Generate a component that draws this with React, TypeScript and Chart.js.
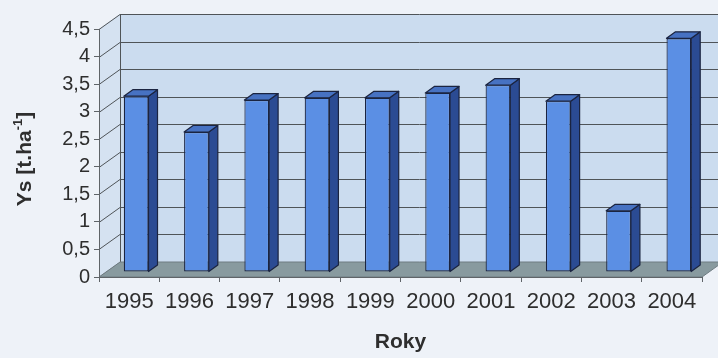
import React, { useEffect, useRef } from "react";
import { Chart, registerables } from "chart.js";

Chart.register(...registerables);

// Yields per year
const years = ["1995", "1996", "1997", "1998", "1999", "2000", "2001", "2002", "2003", "2004"];
const yields = [3.19, 2.54, 3.12, 3.16, 3.16, 3.25, 3.39, 3.1, 1.11, 4.24];
const yMax = 4.5;
const yStep = 0.5;

const FONT = "'Liberation Sans', Arial, sans-serif";

// 3D projection offsets (pixels)
const WALL_DX = 21;
const WALL_DY = 15;
const BAR_DX = 7;
const BAR_DY = 5;
const SIDE_DX = 9;
const SIDE_DY = 6.5;

const threeD = {
  id: "threeD",
  beforeDraw(chart: any) {
    const { ctx, chartArea: a, scales } = chart;
    const y = scales.y;
    const L = a.left, R = a.right, T = a.top, B = a.bottom;
    ctx.save();
    ctx.fillStyle = "#eef2f8";
    ctx.fillRect(0, 0, chart.width, chart.height);

    // back wall
    ctx.fillStyle = "#cbdcef";
    ctx.fillRect(L + WALL_DX, T - WALL_DY, R - L, B - T);
    // left wall
    ctx.fillStyle = "#d5e2f1";
    ctx.beginPath();
    ctx.moveTo(L, T);
    ctx.lineTo(L + WALL_DX, T - WALL_DY);
    ctx.lineTo(L + WALL_DX, B - WALL_DY);
    ctx.lineTo(L, B);
    ctx.closePath();
    ctx.fill();

    // gridlines on both walls
    ctx.strokeStyle = "#4f5458";
    ctx.lineWidth = 1;
    for (let v = 0; v <= yMax + 1e-9; v += yStep) {
      const py = Math.round(y.getPixelForValue(v)) + 0.5;
      ctx.beginPath();
      ctx.moveTo(L, py);
      ctx.lineTo(L + WALL_DX, py - WALL_DY);
      ctx.lineTo(R + WALL_DX, py - WALL_DY);
      ctx.stroke();
    }
    // wall corner edge
    ctx.beginPath();
    ctx.moveTo(L + WALL_DX + 0.5, T - WALL_DY);
    ctx.lineTo(L + WALL_DX + 0.5, B - WALL_DY);
    ctx.stroke();

    // floor
    ctx.fillStyle = "#889a9f";
    ctx.beginPath();
    ctx.moveTo(L, B);
    ctx.lineTo(R, B);
    ctx.lineTo(R + WALL_DX, B - WALL_DY);
    ctx.lineTo(L + WALL_DX, B - WALL_DY);
    ctx.closePath();
    ctx.fill();
    ctx.strokeStyle = "#6f7c82";
    ctx.stroke();
    ctx.restore();
  },
  beforeDatasetsDraw(chart: any) {
    chart.ctx.save();
    chart.ctx.translate(BAR_DX, -BAR_DY);
  },
  afterDatasetsDraw(chart: any) {
    const { ctx } = chart;
    const meta = chart.getDatasetMeta(0);
    ctx.lineWidth = 1.2;
    ctx.strokeStyle = "#1b2440";
    ctx.lineJoin = "round";
    meta.data.forEach((bar: any) => {
      const { x, y, base, width } = bar.getProps(["x", "y", "base", "width"], true);
      const l = x - width / 2;
      const r = x + width / 2;
      // right side face
      ctx.fillStyle = "#2b4b93";
      ctx.beginPath();
      ctx.moveTo(r, y);
      ctx.lineTo(r + SIDE_DX, y - SIDE_DY);
      ctx.lineTo(r + SIDE_DX, base - SIDE_DY);
      ctx.lineTo(r, base);
      ctx.closePath();
      ctx.fill();
      ctx.stroke();
      // top face
      ctx.fillStyle = "#4772c2";
      ctx.beginPath();
      ctx.moveTo(l, y);
      ctx.lineTo(l + SIDE_DX, y - SIDE_DY);
      ctx.lineTo(r + SIDE_DX, y - SIDE_DY);
      ctx.lineTo(r, y);
      ctx.closePath();
      ctx.fill();
      ctx.stroke();
    });
    ctx.restore();
  },
  afterDraw(chart: any) {
    const { ctx, chartArea: a } = chart;
    // rotated y-axis title with superscript
    ctx.save();
    const cy = (a.top + a.bottom) / 2 + 6;
    ctx.translate(25, cy);
    ctx.rotate(-Math.PI / 2);
    ctx.fillStyle = "#2e2e2e";
    ctx.textBaseline = "middle";
    ctx.textAlign = "left";
    const main = `bold 21px ${FONT}`;
    const sup = `bold 13px ${FONT}`;
    const p1 = "Ys [t.ha";
    const p2 = "-1";
    const p3 = "]";
    ctx.font = main;
    const w1 = ctx.measureText(p1).width;
    const w3 = ctx.measureText(p3).width;
    ctx.font = sup;
    const w2 = ctx.measureText(p2).width;
    let x0 = -(w1 + w2 + w3) / 2;
    ctx.font = main;
    ctx.fillText(p1, x0, 0);
    x0 += w1;
    ctx.font = sup;
    ctx.fillText(p2, x0, -7);
    x0 += w2;
    ctx.font = main;
    ctx.fillText(p3, x0, 0);
    ctx.restore();
  },
};

export default function App() {
  const ref = useRef<HTMLCanvasElement | null>(null);

  useEffect(() => {
    if (!ref.current) return;
    const chart = new Chart(ref.current, {
      type: "bar",
      data: {
        labels: years,
        datasets: [
          {
            data: yields,
            backgroundColor: "#5b8fe4",
            borderColor: "#1b2440",
            borderWidth: 1.2,
            borderSkipped: false,
            barPercentage: 0.41,
            categoryPercentage: 1,
          },
        ],
      },
      options: {
        responsive: false,
        animation: false,
        devicePixelRatio: 1,
        layout: { padding: { top: 29, right: 16, left: 0, bottom: 0 } },
        plugins: {
          legend: { display: false },
          tooltip: { enabled: false },
        },
        scales: {
          x: {
            grid: { drawOnChartArea: false, tickLength: 5, color: "#5f6468", offset: true },
            border: { color: "#5f6468" },
            ticks: {
              font: { family: FONT, size: 22 },
              color: "#2e2e2e",
              padding: 7,
              maxRotation: 0,
              autoSkip: false,
            },
            title: {
              display: true,
              text: "Roky",
              font: { family: FONT, size: 21, weight: "bold" },
              color: "#2e2e2e",
              padding: { top: 4, bottom: 3 },
            },
            afterFit: (s: any) => {
              s.height = 81;
            },
          },
          y: {
            min: 0,
            max: yMax,
            grid: { drawOnChartArea: false, tickLength: 5, color: "#5f6468" },
            border: { color: "#5f6468" },
            ticks: {
              stepSize: yStep,
              autoSkip: false,
              font: { family: FONT, size: 20 },
              color: "#2e2e2e",
              padding: 4,
              callback: (v: any) => String(v).replace(".", ","),
            },
            afterFit: (s: any) => {
              s.width = 99;
            },
          },
        },
      },
      plugins: [threeD],
    });
    return () => chart.destroy();
  }, []);

  return (
    <div style={{ position: "fixed", left: 0, top: 0, width: 718, height: 358 }}>
      <canvas ref={ref} width={718} height={358} />
    </div>
  );
}
